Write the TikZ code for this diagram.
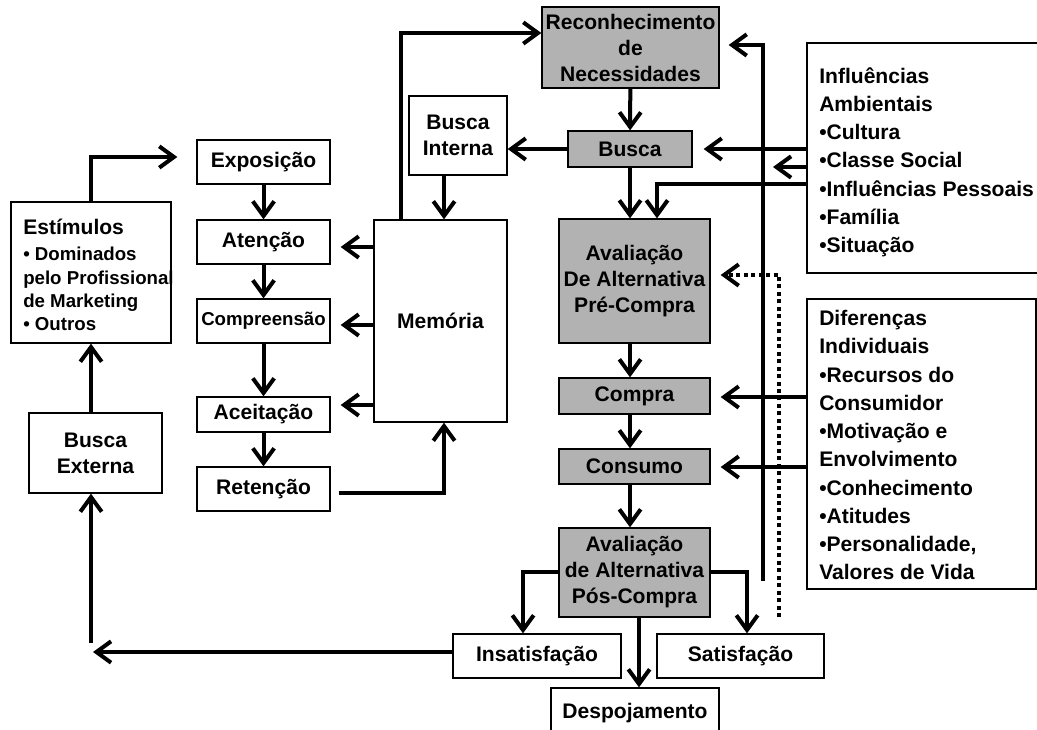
\documentclass[tikz,border=0pt]{standalone}
\usepackage{fontspec}
\setmainfont{Liberation Sans}
\usetikzlibrary{arrows.meta,calc}
\begin{document}
\begin{tikzpicture}[x=0.75pt,y=-0.75pt,
  box/.style={draw, line width=1pt, inner sep=0pt, align=center, anchor=center,
    font=\bfseries\fontsize{15.8}{19.5}\selectfont},
  gbox/.style={box, fill=gray!60},
  sz/.style 2 args={minimum width=#1*0.75pt, minimum height=#2*0.75pt},
  txt/.style={inner sep=0pt, align=left, anchor=north west,
    font=\bfseries\fontsize{15.8}{21.2}\selectfont},
  arr/.style={line width=3pt, -{Straight Barb[length=11pt,width=16pt]}},
  dotline/.style={line width=3pt, dash pattern=on 3pt off 2.6pt}
]
\useasboundingbox (0,0) rectangle (1037,729);

% grey process boxes
\node[gbox, sz={177}{81}] (rec) at (630.5,47.5) {Reconhecimento\\de\\Necessidades};
\node[gbox, sz={124}{36}] (busca) at (630,149) {Busca};
\node[gbox, sz={151}{124}] (pre) at (634.5,281) {Avaliação\\De Alternativa\\Pré-Compra};
\node[gbox, sz={151}{36}] (compra) at (634.5,396) {Compra};
\node[gbox, sz={151}{35}] (consumo) at (634.5,466.5) {Consumo};
\node[gbox, sz={151}{89}] (pos) at (634.5,572.5) {Avaliação\\de Alternativa\\Pós-Compra};

% white boxes
\node[box, sz={168}{44}] (insat) at (537,656) {Insatisfação};
\node[box, sz={167}{44}] (sat) at (740.5,656) {Satisfação};
\node[box, sz={168}{50}] (desp) at (635,713) {Despojamento};
\node[box, sz={98}{79}] (bint) at (458,135.5) {Busca\\Interna};
\node[box, sz={133}{202}] (mem) at (440.5,321) {Memória};
\node[box, sz={133}{44}] (expo) at (263.5,162) {Exposição};
\node[box, sz={133}{44}] (aten) at (263.5,242) {Atenção};
\node[box, sz={133}{44}, font=\bfseries\fontsize{14}{17}\selectfont] (comp) at (263.5,321) {Compreensão};
\node[box, sz={133}{35}] (acei) at (263.5,414.5) {Aceitação};
\node[box, sz={133}{44}] (ret) at (263.5,489) {Retenção};
\node[box, sz={133}{80}] (bext) at (95.5,453) {Busca\\Externa};
\node[box, sz={160}{141}] (estim) at (91,272.5) {};
\node[txt, font=\bfseries\fontsize{14}{17.5}\selectfont] (estimtxt) at (23,219)
  {{\fontsize{15.8}{19.5}\selectfont Estímulos}\\[2pt]• Dominados\\pelo Profissional\\de Marketing\\• Outros};

% influence boxes
\node[box, sz={253}{230}] (inf) at (933.5,158) {};
\node[txt] (inftxt) at (819,67)
  {Influências\\Ambientais\\•Cultura\\•Classe Social\\•Influências Pessoais\\•Família\\•Situação};
\node[box, sz={229}{290}] (dif) at (921.5,444) {};
\node[txt] (diftxt) at (819,310)
  {Diferenças\\Individuais\\•Recursos do\\Consumidor\\•Motivação e\\Envolvimento\\•Conhecimento\\•Atitudes\\•Personalidade,\\Valores de Vida};

% helper coordinates
\coordinate (yA) at (0,247);
\coordinate (yC) at (0,325);
\coordinate (yAc) at (0,405);
\coordinate (xM) at (444,0);
\coordinate (yR) at (0,493);
\coordinate (yE) at (0,157);
\coordinate (xT) at (401,0);
\coordinate (yT) at (0,33);
\coordinate (yB) at (0,149);
\coordinate (yB2) at (0,167);
\coordinate (yB3) at (0,184);
\coordinate (xP) at (657,0);
\coordinate (yCo) at (0,397);
\coordinate (yCs) at (0,467);
\coordinate (yPo) at (0,572);
\coordinate (xI) at (523,0);
\coordinate (xSa) at (747,0);
\coordinate (xD) at (639,0);
\coordinate (fb) at (763,581);
\coordinate (fbt) at (763,45);
\coordinate (dt) at (779,617);
\coordinate (dtt) at (779,275);
\coordinate (vl) at (773,167);
\coordinate (bx1) at (93,652);
\coordinate (bx2) at (91,643);

% left chain
\draw[arr] (expo) -- (aten);
\draw[arr] (aten) -- (comp);
\draw[arr] (comp) -- (acei);
\draw[arr] (acei) -- (ret);
\draw[arr] (estim.north) |- ($(expo.west |- yE)+(-19,0)$);
\draw[arr] (bext.north -| estim.south) -- (estim.south);
\draw[arr] ([yshift=3pt]insat.west) -- (bx1);
\draw[arr] (bx2) -- (bext.south -| bx2);

% memory
\draw[arr] (mem.west |- yA) -- ($(aten.east |- yA)+(10,0)$);
\draw[arr] (mem.west |- yC) -- ($(comp.east |- yC)+(10,0)$);
\draw[arr] (mem.west |- yAc) -- ($(acei.east |- yAc)+(10,0)$);
\draw[arr] (bint.south -| xM) -- (mem.north -| xM);
\draw[arr] ($(ret.east |- yR)+(8,0)$) -| (mem.south -| xM);
\draw[arr] (mem.north -| xT) |- (rec.west |- yT);
\draw[arr] (busca.west |- yB) -- (bint.east |- yB);

% main chain
\draw[arr] (rec) -- (busca);
\draw[arr] (busca.south) -- (pre.north -| busca.south);
\draw[arr] (pre.south -| busca.south) -- (compra.north -| busca.south);
\draw[arr] (compra.south -| busca.south) -- (consumo.north -| busca.south);
\draw[arr] (consumo.south -| busca.south) -- (pos.north -| busca.south);
\draw[arr] (pos.south -| xD) -- (desp.north -| xD);
\draw[arr] (pos.west |- yPo) -| (insat.north -| xI);
\draw[arr] (pos.east |- yPo) -| (sat.north -| xSa);

% influences
\draw[arr] (inf.west |- yB) -- ($(busca.east |- yB)+(11,0)$);
\draw[arr] (inf.west |- yB2) -- (vl);
\draw[arr] (inf.west |- yB3) -| (pre.north -| xP);
\draw[arr] (dif.west |- yCo) -- ($(compra.east |- yCo)+(10,0)$);
\draw[arr] (dif.west |- yCs) -- ($(consumo.east |- yCs)+(10,0)$);

% feedback
\draw[arr] (fb) -- (fbt) -- ($(rec.east |- fbt)+(9,0)$);
\draw[dotline] (dt) -- (dtt) -- ($(pre.east |- dtt)+(14,0)$);
\draw[arr] ($(pre.east |- dtt)+(16,0)$) -- ($(pre.east |- dtt)+(10,0)$);
\end{tikzpicture}
\end{document}
